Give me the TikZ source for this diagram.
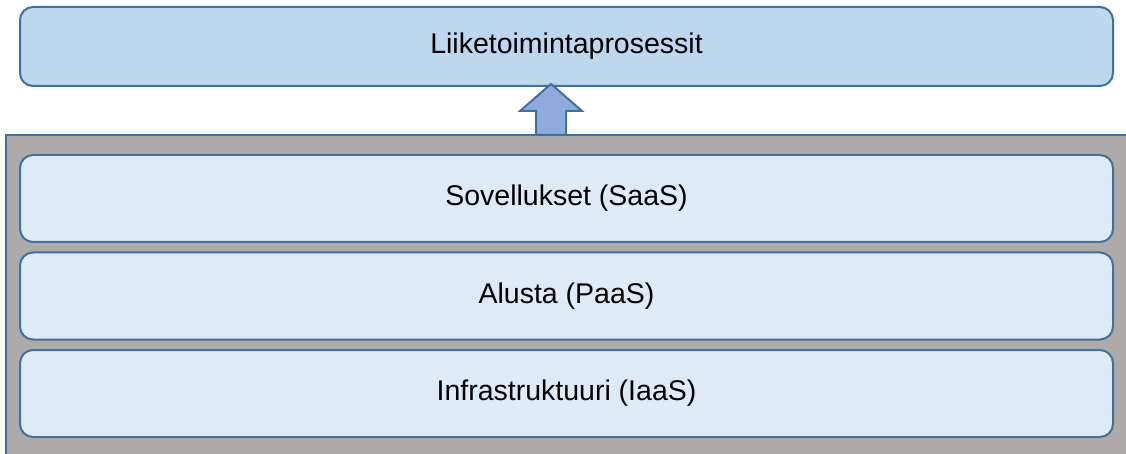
\documentclass[tikz,border=0pt]{standalone}
\usepackage{fontspec}
\setmainfont{Liberation Sans}
\definecolor{edgeblue}{RGB}{65,113,156}
\definecolor{procfill}{RGB}{189,215,238}
\definecolor{layerfill}{RGB}{222,235,247}
\definecolor{framegray}{RGB}{174,170,170}
\definecolor{arrowfill}{RGB}{143,170,220}
\tikzset{
  layerbox/.style={draw=edgeblue, line width=2pt, fill=layerfill, rounded corners=13pt,
    minimum width=1093pt, minimum height=87pt, inner sep=0pt,
    font=\fontsize{28.5}{34}\selectfont},
  procbox/.style={layerbox, fill=procfill, minimum height=79pt},
  blockarrow/.style={draw=edgeblue, line width=2pt, fill=arrowfill, line join=miter}
}
\begin{document}
\begin{tikzpicture}[x=1pt, y=-1pt]
  \useasboundingbox (0,0) rectangle (1126,454);
  \begin{scope}
    \clip (0,0) rectangle (1126,454);
    % grey frame holding the service layers (open to the right and bottom)
    \node[fill=framegray, anchor=north west, minimum width=1140pt, minimum height=340pt,
          inner sep=0pt, outer sep=0pt] (frame) at (6,135) {};
    \draw[edgeblue, line width=2pt] (frame.south west) -- (frame.north west) -- (frame.north east);
  \end{scope}
  % business processes on top
  \node[procbox] (proc) at (566.5,46.5) {Liiketoimintaprosessit};
  % service layers
  \node[layerbox] (saas) at (566.5,198.5) {Sovellukset (SaaS)};
  \node[layerbox] (paas) at (566.5,296) {Alusta (PaaS)};
  \node[layerbox] (iaas) at (566.5,393.5) {Infrastruktuuri (IaaS)};
  % block arrow from the frame up to the processes
  \coordinate (up) at ([xshift=545pt]frame.north west);
  \draw[blockarrow] (up) ++(-15,0) -- ++(0,-24) -- ++(-16,0) -- ++(31,-27)
        -- ++(31,27) -- ++(-16,0) -- ++(0,24) -- cycle;
\end{tikzpicture}
\end{document}
